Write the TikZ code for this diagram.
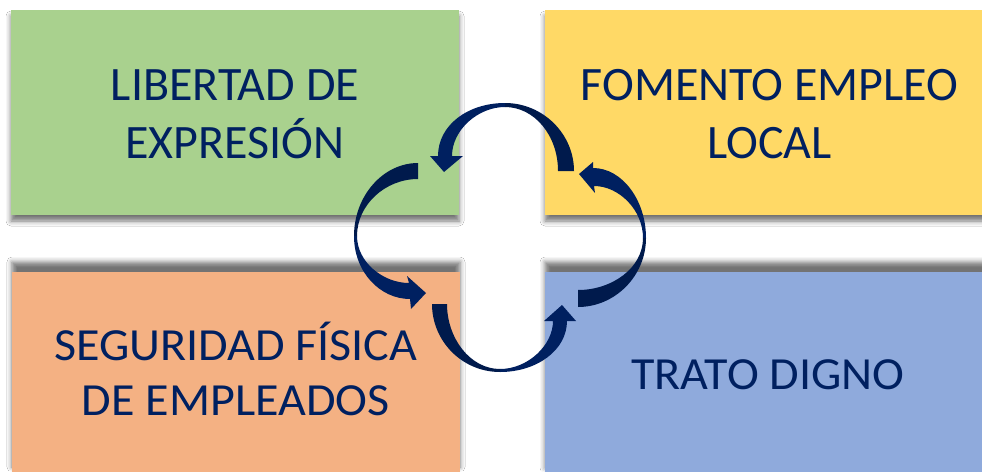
\documentclass[tikz,border=0pt]{standalone}
\usepackage{fontspec}
\setmainfont{Carlito}
\newfontfamily\widecarlito[FakeStretch=1.045]{Carlito}
\usetikzlibrary{shadows.blur}
\definecolor{boxgreen}{HTML}{A9D18E}
\definecolor{boxyellow}{HTML}{FFD966}
\definecolor{boxorange}{HTML}{F4B183}
\definecolor{boxblue}{HTML}{8FAADC}
\definecolor{navytext}{HTML}{002060}
\definecolor{navyhead}{HTML}{002060}
\definecolor{navytail}{HTML}{001A4C}
\begin{document}
\begin{tikzpicture}[x=1pt,y=-1pt,
  panel/.style={fill=#1, draw=none, inner sep=0pt, outer sep=0pt, anchor=north west},
  topshadow/.style={blur shadow={shadow xshift=0pt, shadow yshift=-6pt, shadow blur radius=5pt, shadow opacity=55}},
  botshadow/.style={blur shadow={shadow xshift=0pt, shadow yshift=10pt, shadow blur radius=5pt, shadow opacity=55}},
  label/.style={text=navytext, align=center, inner sep=0pt, anchor=north},
  bigfont/.style={font=\fontsize{48}{58}\selectfont},
  smallfont/.style={font=\widecarlito\fontsize{46}{54.5}\selectfont},
  tailpart/.style={fill=navytail, draw=none},
  headpart/.style={fill=navyhead, draw=none}]
\fill[white] (0,0) rectangle (982,471);
\useasboundingbox (0,0) rectangle (982,471);
% panels
\node[panel=boxgreen, topshadow, minimum width=448pt, minimum height=205pt] (green) at (11,10) {};
\node[panel=boxyellow, topshadow, minimum width=449pt, minimum height=205pt] (yellow) at (545,10) {};
\node[panel=boxorange, botshadow, minimum width=448pt, minimum height=205pt] (orange) at (12,272) {};
\node[panel=boxblue, botshadow, minimum width=449pt, minimum height=206pt] (blue) at (545,272) {};
% labels
\node[label, bigfont] (tgreen) at (235,60) {\rule{0pt}{40pt}LIBERTAD DE\\EXPRESIÓN};
\node[label, bigfont] (tyellow) at (769.5,60) {\rule{0pt}{40pt}FOMENTO EMPLEO\\LOCAL};
\node[label, smallfont] (torange) at (235.8,320.7) {\rule{0pt}{40pt}SEGURIDAD FÍSICA\\DE EMPLEADOS};
\node[label, smallfont] (tblue) at (768,349.3) {\rule{0pt}{40pt}TRATO DIGNO};
% top arrow (yellow -> green)
\fill[tailpart] (558,171) .. controls (558,135) and (534,107) .. (505,107) -- (505,103) .. controls (543,103) and (574,134) .. (574,171) -- cycle;
\fill[headpart] (505,103) .. controls (468,103) and (438,125) .. (438,156) -- (430,156) -- (444,172) -- (463,156) -- (452,156) .. controls (452,130) and (478,107) .. (505,107) -- cycle;
% left arrow (green -> orange)
\fill[tailpart] (418,163) .. controls (383,163) and (354,196) .. (354,236) -- (357,236) .. controls (357,205) and (385,179) .. (418,179) -- cycle;
\fill[headpart] (354,236) .. controls (354,272) and (380,299) .. (410,299) -- (411,309) -- (426,293) -- (407,276) -- (409,283) .. controls (383,283) and (357,262) .. (357,236) -- cycle;
% bottom arrow (orange -> blue)
\fill[tailpart] (432,304) .. controls (432,341) and (462,372) .. (500,372) -- (500,369) .. controls (470,369) and (447,338) .. (447,304) -- cycle;
\fill[headpart] (500,372) .. controls (537,372) and (567,350) .. (567,321) -- (576,321) -- (562,305) -- (544,321) -- (553,321) .. controls (553,345) and (528,369) .. (500,369) -- cycle;
% right arrow (blue -> yellow)
\fill[tailpart] (578,307) .. controls (615,307) and (646,276) .. (646,238) -- (643,238) .. controls (643,268) and (612,290) .. (578,290) -- cycle;
\fill[headpart] (646,238) .. controls (646,200) and (622,168) .. (593,168) -- (593,162) -- (579,174) -- (595,193) -- (594,186) .. controls (619,186) and (643,210) .. (643,238) -- cycle;
\end{tikzpicture}
\end{document}
